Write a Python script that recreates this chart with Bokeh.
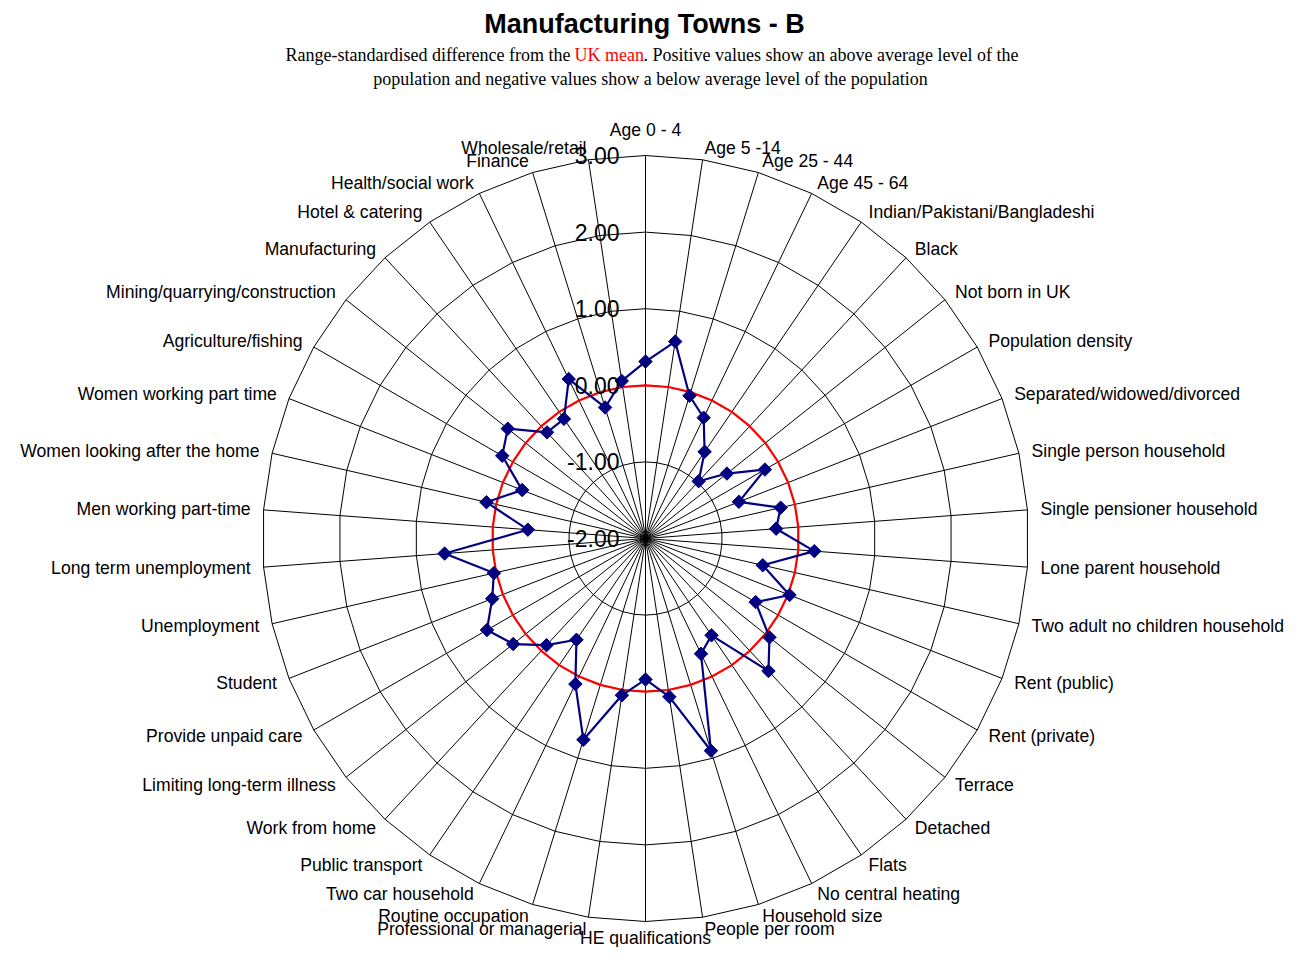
import math
from bokeh.plotting import figure
from bokeh.models import Range1d
from bokeh.core.properties import value
from bokeh.embed import file_html
from bokeh.resources import INLINE

categories = [
    "Age 0 - 4", "Age 5 -14", "Age 25 - 44", "Age 45 - 64",
    "Indian/Pakistani/Bangladeshi", "Black", "Not born in UK", "Population density",
    "Separated/widowed/divorced", "Single person household", "Single pensioner household",
    "Lone parent household", "Two adult no children household", "Rent (public)",
    "Rent (private)", "Terrace", "Detached", "Flats", "No central heating",
    "Household size", "People per room", "HE qualifications", "Professional or managerial",
    "Routine occupation", "Two car household", "Public transport", "Work from home",
    "Limiting long-term illness", "Provide unpaid care", "Student", "Unemployment",
    "Long term unemployment", "Men working part-time", "Women looking after the home",
    "Women working part time", "Agriculture/fishing", "Mining/quarrying/construction",
    "Manufacturing", "Hotel & catering", "Health/social work", "Finance", "Wholesale/retail",
]
town_b = [0.31, 0.60, -0.05, -0.25, -0.63, -0.98, -0.64, -0.20, -0.69, -0.19, -0.29,
          0.21, -0.43, 0.02, -0.34, 0.07, 0.36, -0.47, -0.33, 0.90, 0.09, -0.16,
          0.07, 0.75, 0.11, -0.40, -0.10, 0.21, 0.39, 0.15, 0.03, 0.63, -0.46,
          0.13, -0.27, 0.16, 0.30, -0.11, -0.11, 0.31, -0.21, 0.08]
uk_mean = [0.0] * len(categories)
tick_values = [-2.0, -1.0, 0.0, 1.0, 2.0, 3.0]
tick_labels = ["-2.00", "-1.00", "0.00", "1.00", "2.00", "3.00"]

# layout (screen pixel space)
W, H = 1288, 947
CX, CY = 645, 538
UNIT = 76.6
RMIN = tick_values[0]
N = len(categories)
SANS = value("Liberation Sans")
SERIF = value("Liberation Serif")


def ang(i):
    return 2 * math.pi * i / N


def pt(v, i):
    r = (v - RMIN) * UNIT
    return CX + r * math.sin(ang(i)), CY - r * math.cos(ang(i))


p = figure(width=W, height=H, x_range=Range1d(0, W), y_range=Range1d(H, 0),
           x_axis_type=None, y_axis_type=None, min_border=0,
           toolbar_location=None, output_backend="svg")
p.grid.visible = False
p.outline_line_color = None
p.background_fill_color = "white"

# grid rings (polygons)
rx, ry = [], []
for t in tick_values[1:]:
    xs, ys = zip(*[pt(t, i) for i in range(N + 1)])
    rx.append(list(xs)); ry.append(list(ys))
p.multi_line(rx, ry, line_color="black", line_width=1)

# spokes
sx, sy = [], []
for i in range(N):
    x0, y0 = pt(RMIN, i)
    x1, y1 = pt(tick_values[-1], i)
    sx.append([x0, x1]); sy.append([y0, y1])
p.multi_line(sx, sy, line_color="black", line_width=1)

# UK mean (red)
mx, my = zip(*[pt(uk_mean[i % N], i % N) for i in range(N + 1)])
p.line(list(mx), list(my), line_color="#FF0000", line_width=2.2)

# series
bx, by = zip(*[pt(town_b[i % N], i % N) for i in range(N + 1)])
p.line(list(bx), list(by), line_color="#000080", line_width=2.2)
p.scatter(list(bx[:-1]), list(by[:-1]), marker="square", angle=math.pi / 4, size=9.5,
          fill_color="#000080", line_color="#000080")

# radial tick labels
tx = [CX - 26] * len(tick_values)
ty = [pt(t, 0)[1] for t in tick_values]
p.text(tx, ty, text=tick_labels, text_align="right", text_baseline="middle",
       text_font=SANS, text_font_size=value("23px"), text_color="black")

# category labels
outer = tick_values[-1]
groups = {"left": ([], [], []), "right": ([], [], []), "center_top": ([], [], []),
          "center_bottom": ([], [], [])}
for i, c in enumerate(categories):
    x1, y1 = pt(outer, i)
    s, co = math.sin(ang(i)), math.cos(ang(i))
    if abs(s) < 1e-6:
        if co > 0:
            g = groups["center_top"]; g[0].append(x1); g[1].append(y1 - 26)
        else:
            g = groups["center_bottom"]; g[0].append(x1); g[1].append(y1 + 16)
    else:
        g = groups["left"] if s > 0 else groups["right"]
        g[0].append(x1 + 13 * s); g[1].append(y1 - 12 * co)
    g[2].append(c)

for key, (xs, ys, ts) in groups.items():
    if not ts:
        continue
    align = {"left": "left", "right": "right"}.get(key, "center")
    p.text(xs, ys, text=ts, text_align=align, text_baseline="middle",
           text_font=SANS, text_font_size=value("17.6px"), text_color="black")

# title and subtitle
p.text([644], [23], text=["Manufacturing Towns - B"], text_align="center",
       text_baseline="middle", text_font=SANS, text_font_size=value("27px"),
       text_font_style="bold", text_color="black")
p.text([570], [54], text=["Range-standardised difference from the"], text_align="right",
       text_baseline="middle", text_font=SERIF, text_font_size=value("18px"),
       text_color="black")
p.text([574], [54], text=["UK mean"], text_align="left",
       text_baseline="middle", text_font=SERIF, text_font_size=value("18px"),
       text_color="#FF0000")
p.text([643], [54], text=[". Positive values show an above average level of the"],
       text_align="left", text_baseline="middle", text_font=SERIF,
       text_font_size=value("18px"), text_color="black")
p.text([650], [78], text=["population and negative values show a below average level of the population"],
       text_align="center", text_baseline="middle", text_font=SERIF,
       text_font_size=value("18px"), text_color="black")

open("out.html", "w").write(file_html(p, INLINE))
